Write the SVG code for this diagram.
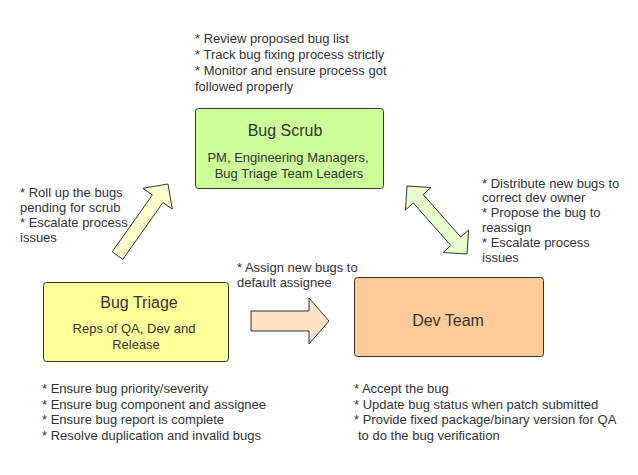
<svg xmlns="http://www.w3.org/2000/svg" width="638" height="475" viewBox="0 0 638 475">
<style>
text{font-family:"Liberation Sans",Arial,sans-serif;fill:#333}
.note{font-size:13px}
.title{font-size:16px;text-anchor:middle}
.sub{font-size:13px;text-anchor:middle}
.box{stroke:#333;stroke-width:1}
.arrow{stroke:#333;stroke-width:1;stroke-linejoin:miter}
</style>
<rect width="638" height="475" fill="#fff"/>
<g id="connectors">
<polygon class="arrow" fill="#ffffcc" points="112.2,251.8 152.3,195 142.9,188.3 168,184 172.3,209.1 162.9,202.5 122.8,259.3"/>
<polygon class="arrow" fill="#ffe3c7" points="251,311 309,311 309,298 329,321 309,344 309,331 251,331"/>
<polygon class="arrow" fill="#e6ffcc" points="407,186 431,187.5 423.1,194.5 460.7,237 468.6,230 467,254 443.1,252.5 450.9,245.5 413.3,203 405.5,210"/>
</g>
<g id="bug-scrub">
<rect class="box" x="195.5" y="108.5" width="188" height="80" rx="3" fill="#ccff99"/>
<text class="title" x="285" y="136">Bug Scrub</text>
<text class="sub" x="288" y="162">PM, Engineering Managers,</text>
<text class="sub" x="289" y="178">Bug Triage Team Leaders</text>
</g>
<g id="bug-triage">
<rect class="box" x="43.5" y="282.5" width="185" height="79" rx="3" fill="#ffff99"/>
<text class="title" x="139" y="308">Bug Triage</text>
<text class="sub" x="134" y="333">Reps of QA, Dev and</text>
<text class="sub" x="136" y="349">Release</text>
</g>
<g id="dev-team">
<rect class="box" x="354.5" y="277.5" width="189" height="79" rx="3" fill="#ffcc99"/>
<text class="title" x="448" y="326">Dev Team</text>
</g>
<g id="notes">
<text class="note" x="195" y="43">* Review proposed bug list</text>
<text class="note" x="195" y="59">* Track bug fixing process strictly</text>
<text class="note" x="195" y="75">* Monitor and ensure process got</text>
<text class="note" x="195" y="91">followed properly</text>
<text class="note" x="20" y="197">* Roll up the bugs</text>
<text class="note" x="20" y="212">pending for scrub</text>
<text class="note" x="20" y="227">* Escalate process</text>
<text class="note" x="20" y="242">issues</text>
<text class="note" x="237" y="272">* Assign new bugs to</text>
<text class="note" x="237" y="287">default assignee</text>
<text class="note" x="482" y="187.5">* Distribute new bugs to</text>
<text class="note" x="482" y="202">correct dev owner</text>
<text class="note" x="482" y="217">* Propose the bug to</text>
<text class="note" x="482" y="232">reassign</text>
<text class="note" x="482" y="247">* Escalate process</text>
<text class="note" x="482" y="262">issues</text>
<text class="note" x="42" y="393">* Ensure bug priority/severity</text>
<text class="note" x="42" y="408.5">* Ensure bug component and assignee</text>
<text class="note" x="42" y="424">* Ensure bug report is complete</text>
<text class="note" x="42" y="440">* Resolve duplication and invalid bugs</text>
<text class="note" x="354" y="393">* Accept the bug</text>
<text class="note" x="354" y="408.5">* Update bug status when patch submitted</text>
<text class="note" x="354" y="424">* Provide fixed package/binary version for QA</text>
<text class="note" x="358" y="440">to do the bug verification</text>
</g>
</svg>
